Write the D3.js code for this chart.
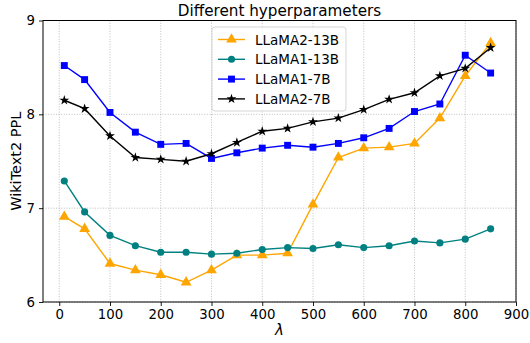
<!DOCTYPE html>
<html>
<head>
<meta charset="utf-8">
<script src="https://cdn.jsdelivr.net/npm/d3@7"></script>
<style>
  body { margin: 0; background: #fff; }
  text { font-family: "DejaVu Sans", sans-serif; }
</style>
</head>
<body>
<div id="chart"></div>
<script>
// lambda values
var lambdas = [10, 50, 100, 150, 200, 250, 300, 350, 400, 450, 500, 550, 600, 650, 700, 750, 800, 850];
var llama2_13b = [6.91, 6.78, 6.41, 6.34, 6.29, 6.21, 6.34, 6.50, 6.50, 6.52, 7.04, 7.54, 7.64, 7.65, 7.69, 7.96, 8.41, 8.76];
var llama1_13b = [7.29, 6.96, 6.71, 6.60, 6.53, 6.53, 6.51, 6.52, 6.56, 6.58, 6.57, 6.61, 6.58, 6.60, 6.65, 6.63, 6.67, 6.78];
var llama1_7b = [8.52, 8.37, 8.02, 7.81, 7.68, 7.69, 7.53, 7.59, 7.64, 7.67, 7.65, 7.69, 7.75, 7.85, 8.03, 8.11, 8.63, 8.44];
var llama2_7b = [8.15, 8.06, 7.77, 7.54, 7.52, 7.50, 7.58, 7.70, 7.82, 7.85, 7.92, 7.96, 8.05, 8.16, 8.23, 8.41, 8.49, 8.71];
var xTicks = [0, 100, 200, 300, 400, 500, 600, 700, 800, 900];
var yTicks = [6, 7, 8, 9];

var series = [
  {name: "LLaMA2-13B", values: llama2_13b, color: "orange", symbol: d3.symbolTriangle, size: 50},
  {name: "LLaMA1-13B", values: llama1_13b, color: "teal", symbol: d3.symbolCircle, size: 40},
  {name: "LLaMA1-7B", values: llama1_7b, color: "blue", symbol: d3.symbolSquare, size: 48},
  {name: "LLaMA2-7B", values: llama2_7b, color: "black", symbol: d3.symbolStar, size: 30}
];

var width = 530, height = 343;
var margin = {top: 20.5, right: 14, bottom: 41, left: 43};

var svg = d3.select("#chart").append("svg")
  .attr("width", width)
  .attr("height", height);

var x = d3.scaleLinear().domain([-32, 900]).range([margin.left, width - margin.right]);
var y = d3.scaleLinear().domain([6, 9]).range([height - margin.bottom, margin.top]);

// grid
svg.append("g").selectAll("line.vg")
  .data(xTicks).enter().append("line")
  .attr("x1", d => x(d)).attr("x2", d => x(d))
  .attr("y1", margin.top).attr("y2", height - margin.bottom)
  .attr("stroke", "#b0b0b0").attr("stroke-width", 0.8).attr("stroke-dasharray", "1,1.6");
svg.append("g").selectAll("line.hg")
  .data(yTicks).enter().append("line")
  .attr("x1", margin.left).attr("x2", width - margin.right)
  .attr("y1", d => y(d)).attr("y2", d => y(d))
  .attr("stroke", "#b0b0b0").attr("stroke-width", 0.8).attr("stroke-dasharray", "1,1.6");

// axes
var xAxis = svg.append("g")
  .attr("transform", "translate(0," + (height - margin.bottom) + ")")
  .call(d3.axisBottom(x).tickValues(xTicks).tickSize(4).tickPadding(4));
var yAxis = svg.append("g")
  .attr("transform", "translate(" + margin.left + ",0)")
  .call(d3.axisLeft(y).tickValues(yTicks).tickSize(4).tickPadding(4).tickFormat(d3.format("d")));
[xAxis, yAxis].forEach(function(a) {
  a.selectAll("text").style("font-size", "13.3px").attr("fill", "#000");
  a.selectAll("line").attr("stroke", "#000").attr("stroke-width", 0.9);
  a.select(".domain").remove();
});

// frame
svg.append("rect")
  .attr("x", margin.left).attr("y", margin.top)
  .attr("width", width - margin.right - margin.left)
  .attr("height", height - margin.bottom - margin.top)
  .attr("fill", "none").attr("stroke", "#000").attr("stroke-width", 1);

// lines + markers
var line = d3.line().x((d, i) => x(lambdas[i])).y(d => y(d));
series.forEach(function(s) {
  var g = svg.append("g");
  g.append("path").datum(s.values)
    .attr("d", line)
    .attr("fill", "none").attr("stroke", s.color).attr("stroke-width", 1.4);
  g.selectAll("path.m").data(s.values).enter().append("path")
    .attr("class", "m")
    .attr("transform", (d, i) => "translate(" + x(lambdas[i]) + "," + y(d) + ")")
    .attr("d", d3.symbol().type(s.symbol).size(s.size))
    .attr("fill", s.color);
});

// title and labels
svg.append("text").attr("x", (margin.left + width - margin.right) / 2).attr("y", 15.5)
  .attr("text-anchor", "middle").style("font-size", "15.2px").text("Different hyperparameters");
svg.append("text").attr("x", (margin.left + width - margin.right) / 2).attr("y", 335)
  .attr("text-anchor", "middle").style("font-size", "15px").style("font-style", "italic").text("λ");
svg.append("text")
  .attr("transform", "translate(21," + ((margin.top + height - margin.bottom) / 2) + ") rotate(-90)")
  .attr("text-anchor", "middle").style("font-size", "14.5px").text("WikiText2 PPL");

// legend
var lg = svg.append("g").attr("transform", "translate(212,27)");
lg.append("rect").attr("width", 134).attr("height", 84).attr("rx", 3)
  .attr("fill", "#fff").attr("fill-opacity", 0.8).attr("stroke", "#d5d5d5").attr("stroke-width", 1);
series.forEach(function(s, i) {
  var yy = 12.5 + i * 19.8;
  lg.append("line").attr("x1", 6).attr("x2", 33).attr("y1", yy).attr("y2", yy)
    .attr("stroke", s.color).attr("stroke-width", 1.4);
  lg.append("path").attr("transform", "translate(19.5," + yy + ")")
    .attr("d", d3.symbol().type(s.symbol).size(s.size)).attr("fill", s.color);
  lg.append("text").attr("x", 43).attr("y", yy + 5).style("font-size", "13.5px").text(s.name);
});
</script>
</body>
</html>
